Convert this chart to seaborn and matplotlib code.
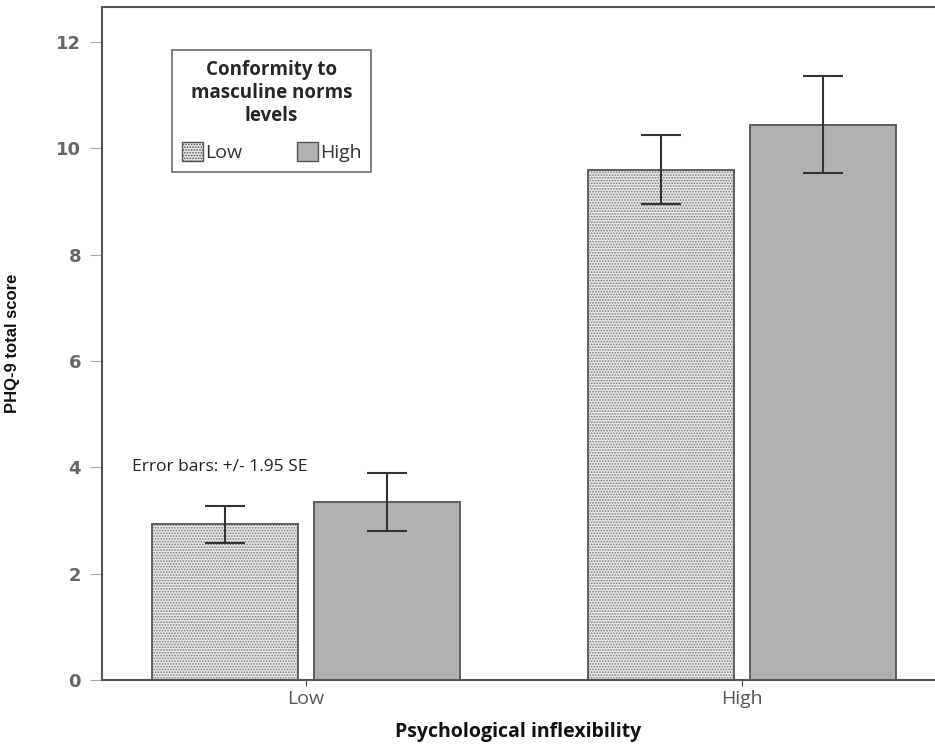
import matplotlib
matplotlib.use("Agg")
import matplotlib.pyplot as plt
import matplotlib.patches as mpatches
import seaborn as sns
import pandas as pd
import numpy as np

# PHQ-9 means by psychological inflexibility and conformity level
inflexibility = ["Low", "Low", "High", "High"]
conformity = ["Low", "High", "Low", "High"]
phq9_mean = [2.93, 3.34, 9.60, 10.44]
ci_lower = [2.57, 2.80, 8.96, 9.54]
ci_upper = [3.28, 3.89, 10.25, 11.36]

x_order = ["Low", "High"]
hue_order = ["Low", "High"]
yticks = [0, 2, 4, 6, 8, 10, 12]

df = pd.DataFrame({
    "Psychological inflexibility": inflexibility,
    "Conformity": conformity,
    "PHQ9": phq9_mean,
    "lo": ci_lower,
    "hi": ci_upper,
})

sns.set_theme(style="white")
plt.rcParams["hatch.linewidth"] = 0.8

fig = plt.figure(figsize=(9.35, 7.47), dpi=100)
ax = fig.add_axes([0.109, 0.0897, 0.891, 0.9009])

fill_colors = {"Low": "#e6e6e6", "High": "#b1b1b1"}
sns.barplot(data=df, x="Psychological inflexibility", y="PHQ9", hue="Conformity",
            order=x_order, hue_order=hue_order, palette=fill_colors,
            width=0.745, gap=0.1, errorbar=None, legend=False, ax=ax,
            edgecolor="#555555", linewidth=1.3)

# Stipple the low-conformity bars, then redraw their outlines
for cont, level in zip(ax.containers, hue_order):
    for patch in cont:
        if level == "Low":
            patch.set_hatch("......")
            patch.set_edgecolor("#7a7a7a")
            patch.set_linewidth(0)
            outline = mpatches.Rectangle(patch.get_xy(), patch.get_width(), patch.get_height(),
                                         fill=False, edgecolor="#555555", linewidth=1.3,
                                         zorder=patch.get_zorder() + 0.1)
            ax.add_patch(outline)

# Error bars (+/- 1.95 SE) centred on each bar
for cont, level in zip(ax.containers, hue_order):
    for patch, cat in zip(cont, x_order):
        row = df[(df["Psychological inflexibility"] == cat) & (df["Conformity"] == level)].iloc[0]
        xc = patch.get_x() + patch.get_width() / 2
        ax.errorbar([xc], [row["PHQ9"]],
                    yerr=[[row["PHQ9"] - row["lo"]], [row["hi"] - row["PHQ9"]]],
                    fmt="none", ecolor="#333333", elinewidth=1.5, capsize=14.4, capthick=1.5, zorder=5)

ax.set_xlim(-0.468, 1.443)
ax.set_ylim(0, 12.66)
ax.set_yticks(yticks)
ax.set_yticklabels([str(v) for v in yticks], fontsize=13, fontweight="bold", color="#666666",
                   family="DejaVu Sans")
ax.set_xticks([0, 1])
ax.set_xticklabels(x_order, fontsize=14, color="#555555", family="Open Sans")
ax.tick_params(axis="y", which="major", left=True, length=9, width=0.8, color="#aaaaaa", pad=6)
ax.tick_params(axis="x", which="major", bottom=True, length=4, width=0.8, color="#444444", pad=3)

for side in ["left", "top", "bottom"]:
    ax.spines[side].set_color("#555555")
    ax.spines[side].set_linewidth(1.5)
ax.spines["right"].set_visible(False)

ax.set_ylabel("PHQ-9 total score", fontsize=12, fontweight="bold", color="#111111",
              family=["Liberation Sans Narrow", "Liberation Sans"])
ax.yaxis.set_label_coords(-0.098, 0.5)
ax.set_xlabel("Psychological inflexibility", fontsize=14, fontweight="bold", color="#111111",
              family="Open Sans")
ax.xaxis.set_label_coords(0.5, -0.062)

ax.text(-0.40, 4.0, "Error bars: +/- 1.95 SE", fontsize=12.5, color="#222222",
        family="Open Sans", va="center", ha="left")

handles = [
    mpatches.Patch(facecolor="#e6e6e6", edgecolor="#555555", hatch="......", label="Low"),
    mpatches.Patch(facecolor="#b1b1b1", edgecolor="#555555", label="High"),
]
leg = ax.legend(handles=handles, title="Conformity to\nmasculine norms\nlevels", ncol=2,
                loc="upper left", bbox_to_anchor=(0.084, 0.936), borderaxespad=0,
                frameon=True, fancybox=False,
                prop={"family": "Open Sans", "size": 14}, handlelength=1.1, handleheight=1.1,
                handletextpad=0.1, columnspacing=2.8, borderpad=0.5, labelspacing=0.3)
title = leg.get_title()
title.set_fontweight("bold")
title.set_fontsize(13.5)
title.set_family("Open Sans")
title.set_multialignment("center")
title.set_linespacing(1.2)
leg._legend_box.sep = 12
leg.get_frame().set_edgecolor("#555555")
leg.get_frame().set_linewidth(1.3)
for t in leg.get_texts():
    t.set_color("#333333")

fig.savefig("out.png", dpi=100)
